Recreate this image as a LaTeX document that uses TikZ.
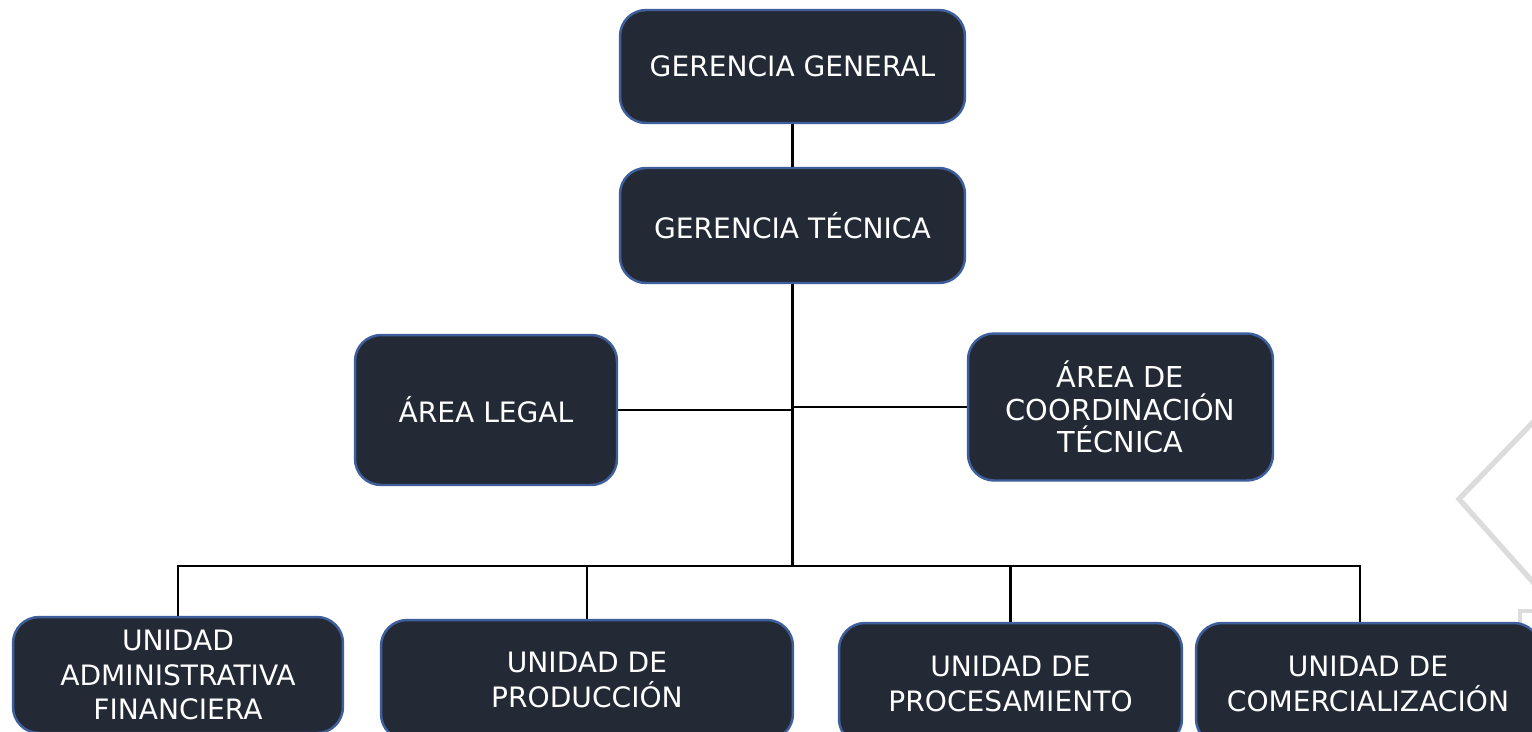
\documentclass[tikz,border=0pt]{standalone}
\usepackage{fontspec}
\setmainfont{DejaVu Sans}
\definecolor{boxfill}{HTML}{232A35}
\definecolor{boxline}{HTML}{3E5F9C}
\definecolor{wmgrey}{HTML}{DCDCDC}

\begin{document}
\begin{tikzpicture}[x=0.02cm, y=-0.02cm,
  unit/.style={draw=boxline, line width=1.4pt, fill=boxfill, rounded corners=0.52cm,
    text=white, align=center, inner sep=2pt, font=\fontsize{16}{19.5}\selectfont},
  link/.style={black, line width=1.4pt}]
\clip (0,0) rectangle (1532,731);
\fill[white] (0,0) rectangle (1532,731);
% marca de agua
\draw[wmgrey, line width=3pt] (1540,415) -- (1459,499) -- (1540,590);
\draw[wmgrey, line width=2pt] (1520,623) -- (1520,611) -- (1540,611);
% gerencias
\node [unit, minimum width=6.9cm, minimum height=2.26cm] (gg) at (792.5,66.5) {GERENCIA GENERAL};
\node [unit, minimum width=6.9cm, minimum height=2.3cm] (gt) at (792.5,225.5) {GERENCIA TÉCNICA};
\draw [link] (gg.south) -- (gt.north);
% areas de apoyo
\node [unit, minimum width=5.24cm, minimum height=3cm] (legal) at (486,410) {ÁREA LEGAL};
\node [unit, minimum width=6.1cm, minimum height=2.94cm, font=\fontsize{16.4}{18.5}\selectfont] (coord) at (1120.5,407) {ÁREA DE\\COORDINACIÓN\\TÉCNICA};
\coordinate (bus) at (792.5,566);
\draw [link] (gt.south) -- (bus);
\draw [link] (legal.east) -- (legal.east -| bus);
\draw [link] (coord.west) -- (coord.west -| bus);
% unidades
\node [unit, minimum width=6.6cm, minimum height=2.32cm] (adm) at (178,675) {UNIDAD\\ADMINISTRATIVA\\FINANCIERA};
\node [unit, minimum width=8.24cm, minimum height=2.4cm] (prod) at (587,680) {UNIDAD DE\\PRODUCCIÓN};
\node [unit, minimum width=6.86cm, minimum height=2.44cm] (proc) at (1010.5,684) {UNIDAD DE\\PROCESAMIENTO};
\node [unit, minimum width=6.88cm, minimum height=2.44cm] (com) at (1368,684) {UNIDAD DE\\COMERCIALIZACIÓN};
\draw [link] (adm.north) |- (bus);
\draw [link] (bus) -| ([xshift=-0.16cm]com.north);
\draw [link] (prod.north) -- (prod.north |- bus);
\draw [link] (proc.north) -- (proc.north |- bus);
\end{tikzpicture}
\end{document}
